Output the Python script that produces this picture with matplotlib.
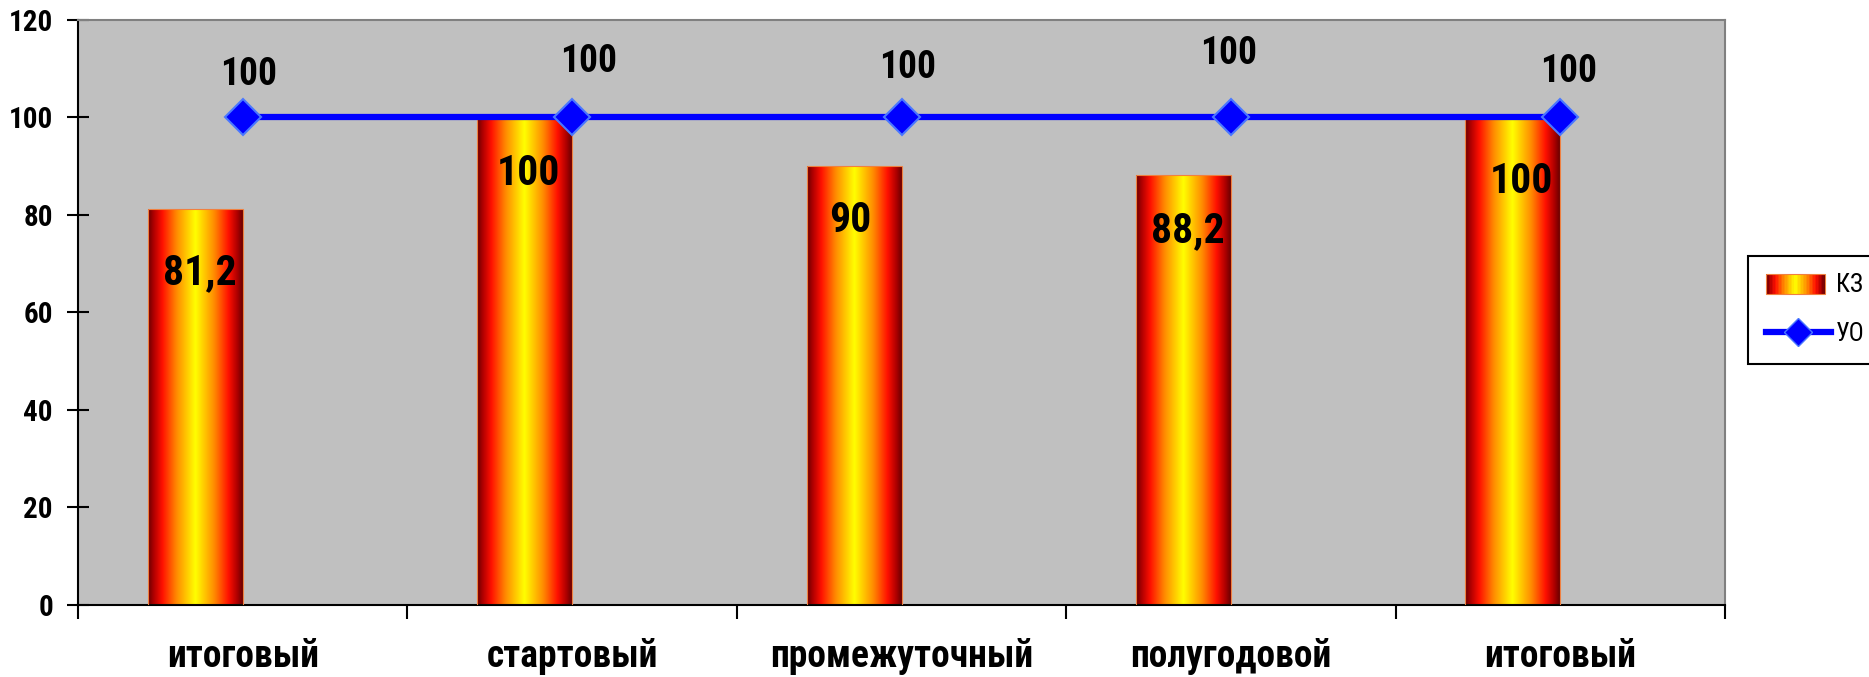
import numpy as np
from matplotlib import pyplot as plt
from matplotlib.colors import LinearSegmentedColormap
from matplotlib.legend_handler import HandlerBase
from matplotlib.lines import Line2D
import matplotlib.patches as mpatches
import matplotlib.font_manager as font_manager

# data
categories = ["итоговый", "стартовый", "промежуточный", "полугодовой", "итоговый"]
kz_values = [81.2, 100, 90, 88.2, 100]
uo_values = [100, 100, 100, 100, 100]
kz_labels = ["81,2", "100", "90", "88,2", "100"]
uo_labels = ["100", "100", "100", "100", "100"]
y_ticks = [0, 20, 40, 60, 80, 100, 120]

# small nudges (in points) for the labels, they were dragged by hand in the original
uo_nudge = [(4, 31), (12, 40), (4, 36), (-2, 46), (6, 33)]
kz_nudge = [(3, -46), (3, -40), (-3, -39), (3, -40), (6, -46)]

# the original uses a narrow bold face, pick the narrowest one we have
installed = {f.name for f in font_manager.fontManager.ttflist}
narrow_names = ["Liberation Sans Narrow", "Arial Narrow", "Roboto Condensed",
                "Open Sans Condensed", "DejaVu Sans Condensed"]
family = None
for name in narrow_names:
    if name in installed:
        family = name
        break
k = 1.0
if family is None:
    family = "Liberation Sans"
    k = 0.9  # wider glyphs, shrink a little

plt.rcParams.update({"font.family": [family, "DejaVu Sans"],
                     "figure.dpi": 100,
                     "savefig.dpi": 100})

grad = LinearSegmentedColormap.from_list("cyl", [
    (0.0, "#6a0000"), (0.06, "#b00000"), (0.15, "#ff1000"),
    (0.3, "#ff8a00"), (0.5, "#ffff00"), (0.7, "#ff8a00"),
    (0.85, "#ff1000"), (0.94, "#b00000"), (1.0, "#6a0000")])


class GradientHandler(HandlerBase):
    # legend key drawn as a strip of thin rectangles
    def create_artists(self, legend, orig_handle, xdescent, ydescent,
                       width, height, fontsize, trans):
        n = 40
        w = width * 0.92
        h = height * 0.95
        arts = []
        for i in range(n):
            arts.append(mpatches.Rectangle((-xdescent + i * w / n, -ydescent + (height - h) / 2),
                                           w / n * 1.05, h, facecolor=grad(i / (n - 1)),
                                           lw=0, transform=trans))
        arts.append(mpatches.Rectangle((-xdescent, -ydescent + (height - h) / 2), w, h,
                                       facecolor="none", edgecolor="#f08040", lw=0.8,
                                       transform=trans))
        return arts


fig = plt.figure(figsize=(18.69, 6.77))
ax = fig.add_axes([0.0417, 0.1064, 0.923 - 0.0417, 0.9705 - 0.1064])
ax.set_facecolor("#c0c0c0")

x = np.arange(len(categories))
bar_w = 0.288
bars = ax.bar(x, kz_values, width=-bar_w, align="edge", facecolor="none",
              edgecolor="#f08040", linewidth=0.8, zorder=3)

# fill every bar with the horizontal gradient
strip = np.linspace(0, 1, 256).reshape(1, -1)
for b in bars:
    x0, y0 = b.get_x(), b.get_y()
    w, h = b.get_width(), b.get_height()
    ax.imshow(strip, cmap=grad, aspect="auto", interpolation="bilinear",
              extent=(x0, x0 + w, y0, y0 + h), zorder=2)

ax.plot(x, uo_values, color="#0000ff", lw=4.5, marker="D", markersize=18,
        markerfacecolor="#0000ff", markeredgecolor="#4a78ff", markeredgewidth=1.5,
        zorder=4)

for b, lab, (dx, dy) in zip(bars, kz_labels, kz_nudge):
    ax.annotate(lab, (b.get_x() + b.get_width() / 2, b.get_height()),
                xytext=(dx, dy), textcoords="offset points", ha="center", va="center",
                fontsize=30 * k, fontweight="bold", zorder=5)

for xi, yi, lab, (dx, dy) in zip(x, uo_values, uo_labels, uo_nudge):
    ax.annotate(lab, (xi, yi), xytext=(dx, dy), textcoords="offset points",
                ha="center", va="center", fontsize=27 * k, fontweight="bold", zorder=5)

ax.set_xlim(-0.5, len(categories) - 0.5)
ax.set_ylim(0, 120)
ax.set_yticks(y_ticks)
ax.set_yticklabels([str(t) for t in y_ticks], fontsize=21 * k, fontweight="bold")
ax.tick_params(axis="y", direction="inout", length=16, width=1.5, pad=10)

ax.set_xticks(x)
ax.set_xticklabels(categories, fontsize=27 * k, fontweight="bold")
ax.set_xticks(np.arange(len(categories) + 1) - 0.5, minor=True)
ax.tick_params(axis="x", which="major", length=0, pad=24)
ax.tick_params(axis="x", which="minor", direction="out", length=10, width=1.5)

for s in ["left", "bottom"]:
    ax.spines[s].set_color("black")
    ax.spines[s].set_linewidth(1.5)
for s in ["top", "right"]:
    ax.spines[s].set_color("#808080")
    ax.spines[s].set_linewidth(1.5)

handles = [mpatches.Patch(label="КЗ"),
           Line2D([], [], color="#0000ff", lw=4.5, marker="D", markersize=14,
                  markerfacecolor="#0000ff", markeredgecolor="#4a78ff", label="УО")]
leg = fig.legend(handles=handles, loc="upper left", bbox_to_anchor=(0.9353, 0.622),
                 bbox_transform=fig.transFigure, borderaxespad=0, fancybox=False,
                 edgecolor="black", framealpha=1, fontsize=18 * k, handlelength=2.6,
                 handleheight=0.9, handletextpad=0.2, labelspacing=1.0,
                 borderpad=0.7, handler_map={mpatches.Patch: GradientHandler()})
leg.get_frame().set_linewidth(1.5)

fig.savefig("out.png")
